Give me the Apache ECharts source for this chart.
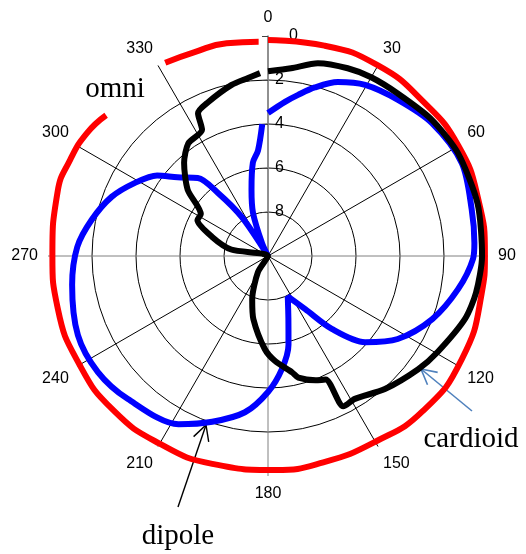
<!DOCTYPE html>
<html>
<head>
<meta charset="utf-8">
<script src="https://cdn.jsdelivr.net/npm/echarts@6/dist/echarts.min.js"></script>
<style>
html,body{margin:0;padding:0;background:#fff;}
#chart{width:526px;height:554px;}
</style>
</head>
<body>
<div id="chart"></div>
<script>
// angles in degrees clockwise from top, loss in dB (0 = outer ring, 10 = centre)
var angleTicks = [0, 30, 60, 90, 120, 150, 180, 210, 240, 270, 300, 330];
var ringTicks = [0, 2, 4, 6, 8];

var omniAngle = [0, 15, 30, 45, 60, 75, 90, 100, 118, 135, 150, 165, 178, 195, 210, 225, 240, 256, 270, 287, 296, 304, 311, 320, 332, 340, 349, 357.5];
var omniLoss  = [0.18, 0.1, 0.0, 0.05, 0.0, 0.1, 0.14, 0.14, 0.02, 0.04, 0.25, 0.29, 0.27, 0.22, 0.15, 0.07, 0.11, 0.15, 0.2, 0.0, 0.0, 0.05, 0.25, null, 0.05, 0.15, 0.15, 0.25];

var dipoleAngle = [0, 6.3, 10.6, 15.5, 21.9, 29.6, 39.8, 51, 64.4, 77, 86.4, 90.8, 99.9, 111, 122.6, 131.6, 138.8, 145, 154, 162, 167, 173, 180, 188.4, 198.6, 208, 224.4, 235.7, 247.4, 261.6, 272.7, 281.6, 290.7, 298.8, 306, 311, 318, 321.6, 326, 332, 335, 340.8, 346, 350.8, 354.6, 357.5];
var dipoleLoss  = [3.5, 2.95, 2.55, 2.05, 1.48, 1.06, 0.77, 0.41, 0.23, 0.5, 0.6, 0.68, 1.23, 2.0, 3.0, 4.1, 5.6, 7.05, 7.95, 7.0, 5.86, 4.82, 3.82, 2.82, 2.05, 1.34, 0.9, 0.64, 0.64, 1.0, 1.32, 1.82, 2.4, 3.1, 3.77, 4.55, 5.23, 6.36, 7.86, 10, 9.36, 7.93, 6.9, 5.7, 5.18, 4.0];

var cardioidAngle = [0, 7, 14.5, 23, 30, 38.6, 50, 61.5, 76, 90, 100, 107.7, 119.5, 127, 138.7, 148.7, 153.4, 155, 159, 166, 168.3, 176, 182, 193, 200, 212, 220, 270, 280, 289, 297, 302, 309.5, 318, 324.7, 332.4, 333.9, 338.7, 348, 353.6, 357.5];
var cardioidLoss  = [1.6, 1.4, 0.95, 0.73, 0.62, 0.55, 0.32, 0.18, 0.18, 0.27, 0.4, 0.6, 1.14, 1.45, 1.95, 2.4, 2.36, 3.8, 3.95, 4.3, 4.6, 5.2, 5.77, 7.05, 7.9, 9.14, 10, 10, 8.3, 7.3, 6.4, 6.4, 5.27, 4.3, 3.73, 3.53, 2.77, 2.5, 2.05, 1.86, 1.68];

function pairs(loss, angle) {
  return loss.map(function (v, i) {
    return v === null ? ['-', angle[i]] : [v, angle[i]];
  });
}

// arrow from tail to head, open V head
function arrow(x1, y1, x2, y2, color, w) {
  var a = Math.atan2(y1 - y2, x1 - x2);
  var len = 17, spread = 28 * Math.PI / 180;
  return {
    type: 'group',
    children: [
      { type: 'line', shape: { x1: x1, y1: y1, x2: x2, y2: y2 }, style: { stroke: color, lineWidth: w } },
      { type: 'polyline', shape: { points: [
          [x2 + len * Math.cos(a - spread), y2 + len * Math.sin(a - spread)],
          [x2, y2],
          [x2 + len * Math.cos(a + spread), y2 + len * Math.sin(a + spread)]
        ] }, style: { stroke: color, lineWidth: w, fill: null } }
    ]
  };
}

var chart = echarts.init(document.getElementById('chart'));

var labelFont = { fontFamily: '"Liberation Sans", Arial, sans-serif', fontSize: 16, color: '#000' };
var serif = '29px "Liberation Serif", "Times New Roman", serif';

// polar 0 draws the grid (0..10 dB over 220px); polar 1 has the same scale but a
// slightly larger radius so the thick traces near 0 dB are not clipped
var ringPx = 220, pad = 0.5;

var option = {
  backgroundColor: '#fff',
  animation: false,
  polar: [
    { center: [268, 256], radius: ringPx },
    { center: [268, 256], radius: ringPx * (10 + pad) / 10 }
  ],
  angleAxis: [{
    polarIndex: 0,
    type: 'value',
    min: angleTicks[0],
    max: 360,
    interval: 30,
    startAngle: 90,
    clockwise: true,
    axisLine: { show: false },
    axisTick: { show: false },
    axisLabel: Object.assign({ margin: 10 }, labelFont, {
      formatter: function (v) { return angleTicks.indexOf(v) >= 0 ? String(v) : ''; }
    }),
    splitLine: { show: true, lineStyle: { color: ['#808080', '#000', '#000'], width: 1 } }
  }, {
    polarIndex: 1,
    type: 'value', min: 0, max: 360, startAngle: 90, clockwise: true,
    axisLine: { show: false }, axisTick: { show: false }, axisLabel: { show: false }, splitLine: { show: false }
  }],
  radiusAxis: [{
    polarIndex: 0,
    type: 'value',
    min: 0,
    max: 10,
    interval: 2,
    inverse: true,
    axisLine: { show: true, lineStyle: { color: '#808080', width: 1.5 } },
    axisTick: { show: true, inside: true, length: 6, lineStyle: { color: '#444' } },
    axisLabel: Object.assign({ margin: -7, align: 'left' }, labelFont, {
      formatter: function (v) {
        if (ringTicks.indexOf(v) < 0) return '';
        return v === 0 ? '{z|0}' : String(v);
      },
      rich: { z: { fontFamily: '"Liberation Sans", Arial, sans-serif', fontSize: 16, color: '#000', padding: [0, 0, 0, 14] } }
    }),
    splitLine: { show: true, lineStyle: { color: ['transparent', '#000', '#000', '#000', '#000', '#000'], width: 1 } }
  }, {
    polarIndex: 1,
    type: 'value', min: -pad, max: 10, inverse: true,
    axisLine: { show: false }, axisTick: { show: false }, axisLabel: { show: false }, splitLine: { show: false }
  }],
  series: [
    { name: 'omni', type: 'line', coordinateSystem: 'polar', polarIndex: 1, data: pairs(omniLoss, omniAngle),
      showSymbol: false, smooth: 0.5, lineStyle: { color: '#ff0000', width: 6 } },
    { name: 'dipole', type: 'line', coordinateSystem: 'polar', polarIndex: 1, data: pairs(dipoleLoss, dipoleAngle),
      showSymbol: false, smooth: 0.3, lineStyle: { color: '#0000ff', width: 6 } },
    { name: 'cardioid', type: 'line', coordinateSystem: 'polar', polarIndex: 1, data: pairs(cardioidLoss, cardioidAngle),
      showSymbol: false, smooth: 0.25, lineStyle: { color: '#000000', width: 6 } }
  ],
  graphic: [
    { type: 'text', x: 115, y: 89, style: { text: 'omni', font: serif, fill: '#000', align: 'center', verticalAlign: 'middle' } },
    { type: 'text', x: 178, y: 536, style: { text: 'dipole', font: serif, fill: '#000', align: 'center', verticalAlign: 'middle' } },
    { type: 'text', x: 471, y: 439, style: { text: 'cardioid', font: serif, fill: '#000', align: 'center', verticalAlign: 'middle' } },
    arrow(178, 507, 206, 425, '#000', 1.4),
    arrow(472, 411, 421, 369, '#4f81bd', 1.6)
  ]
};

chart.setOption(option);
</script>
</body>
</html>
